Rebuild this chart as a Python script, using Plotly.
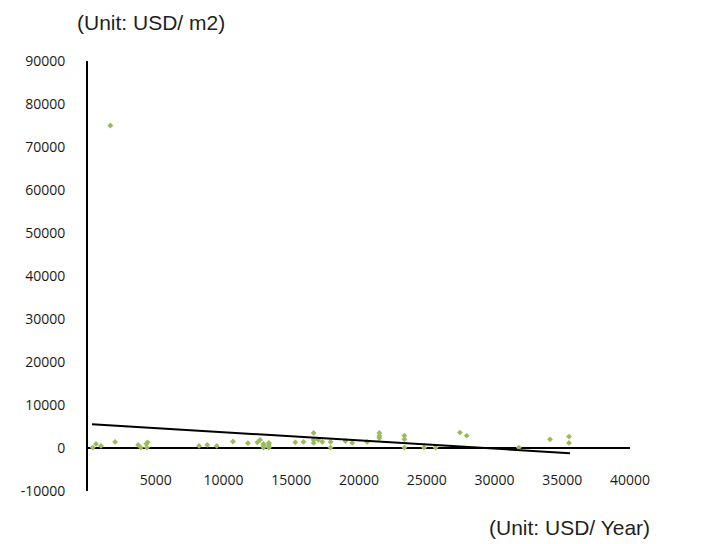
import plotly.graph_objects as go

income = [350, 590, 960, 1650, 2000, 3700, 3900, 4300, 4400, 4350,
          8200, 8800, 9500, 10700, 11800, 12500, 12700, 12950, 12950, 12950,
          13350, 13350, 13350, 13350, 15300, 15900, 16650, 16650, 16650, 17000,
          17300, 17900, 17900, 19000, 19500, 20600, 21500, 21500, 21500, 23350,
          23350, 23350, 24800, 25650, 27450, 27950, 31800, 34100, 35500, 35500]
price = [70, 930, 470, 75000, 1400, 700, 70, 930, 1300, 70,
         470, 700, 470, 1500, 1100, 1300, 1860, 930, 470, 70,
         1160, 930, 470, 70, 1300, 1400, 3500, 1860, 1160, 1860,
         1400, 1400, 70, 1600, 1160, 1400, 3500, 2800, 2300, 2860,
         2000, 70, 70, 70, 3560, 2860, 70, 2000, 2630, 1160]

trend_x = [295, 35570]
trend_y = [5510, -1230]

x_ticks = [5000, 10000, 15000, 20000, 25000, 30000, 35000, 40000]
y_ticks = [-10000, 0, 10000, 20000, 30000, 40000, 50000, 60000, 70000, 80000, 90000]

fig = go.Figure()
fig.add_trace(go.Scatter(x=income, y=price, mode="markers",
                         marker=dict(symbol="diamond", size=4.5, color="#9BBB59"),
                         showlegend=False, hoverinfo="x+y"))
fig.add_trace(go.Scatter(x=trend_x, y=trend_y, mode="lines",
                         line=dict(color="black", width=2),
                         showlegend=False))

tick_font = dict(family="Open Sans, DejaVu Sans, sans-serif", size=14, color="#1a1a1a")
unit_font = dict(family="Liberation Sans, Arial, sans-serif", size=21, color="#231F20")

fig.update_layout(
    width=703, height=544,
    margin=dict(l=80, r=81, t=53, b=61),
    paper_bgcolor="white", plot_bgcolor="white",
    xaxis=dict(range=[0, 40000], tickvals=x_ticks, ticktext=[str(v) for v in x_ticks],
               showgrid=False, zeroline=False, showline=False, ticks="",
               ticklabelposition="inside", ticklabeloverflow="allow", tickfont=tick_font),
    yaxis=dict(range=[-10020, 90000], tickvals=y_ticks, ticktext=[str(v) for v in y_ticks],
               showgrid=False, zeroline=True, zerolinecolor="black", zerolinewidth=2,
               showline=True, linecolor="black", linewidth=2, ticks="",
               ticklabelstandoff=18, ticklabeloverflow="allow", tickfont=tick_font),
    annotations=[
        dict(text="(Unit: USD/ m2)", xref="paper", yref="paper", x=-0.024, y=1.0,
             yshift=39, xanchor="left", yanchor="middle", showarrow=False, font=unit_font),
        dict(text="(Unit: USD/ Year)", xref="paper", yref="paper", x=1.0406, y=0.0,
             yshift=-36, xanchor="right", yanchor="middle", showarrow=False, font=unit_font),
    ],
)

fig.write_html("out.html")
